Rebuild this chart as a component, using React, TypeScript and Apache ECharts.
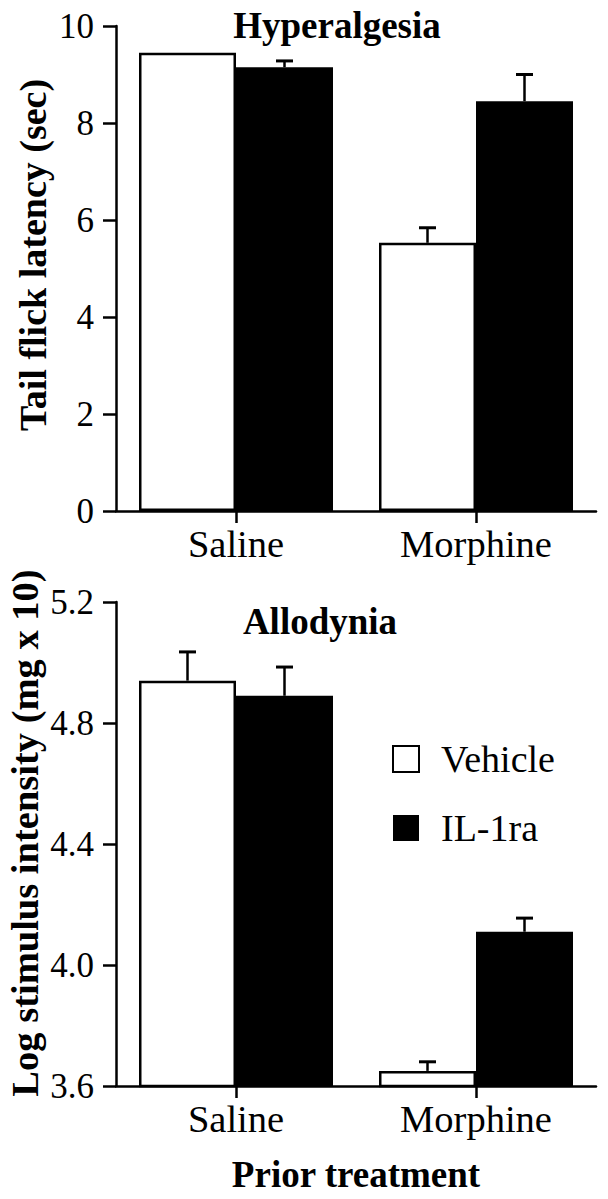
import React, { useEffect, useRef } from "react";
import * as echarts from "echarts";

const categories = ["Saline", "Morphine"];
const seriesNames = ["Vehicle", "IL-1ra"];

// Hyperalgesia (tail flick latency, sec)
const hyperVehicle = [9.45, 5.53];
const hyperVehicleSem = [0, 0.31];
const hyperIL1ra = [9.15, 8.45];
const hyperIL1raSem = [0.13, 0.55];

// Allodynia (log stimulus intensity, mg x 10)
const alloVehicle = [4.94, 3.65];
const alloVehicleSem = [0.095, 0.03];
const alloIL1ra = [4.89, 4.11];
const alloIL1raSem = [0.095, 0.045];

const FONT = "'Liberation Serif', 'Times New Roman', serif";
const BAR_W = 97;
const LW = 2.5;

function errData(means: number[], sems: number[]) {
  return means
    .map((m, i) => [i, m, m + sems[i], sems[i]])
    .filter((d) => d[3] > 0);
}

function errSeries(means: number[], sems: number[], idx: number, side: number) {
  return {
    type: "custom",
    xAxisIndex: idx,
    yAxisIndex: idx,
    silent: true,
    z: 5,
    data: errData(means, sems),
    renderItem: (params: any, api: any) => {
      const cat = api.value(0);
      const base = api.coord([cat, api.value(1)]);
      const top = api.coord([cat, api.value(2)]);
      const x = base[0] + side * (BAR_W / 2);
      return {
        type: "group",
        children: [
          {
            type: "line",
            shape: { x1: x, y1: base[1], x2: x, y2: top[1] },
            style: { stroke: "#000", lineWidth: LW },
          },
          {
            type: "line",
            shape: { x1: x - 8.5, y1: top[1], x2: x + 8.5, y2: top[1] },
            style: { stroke: "#000", lineWidth: LW + 0.5 },
          },
        ],
      };
    },
  };
}

export default function App() {
  const ref = useRef<HTMLDivElement>(null);
  useEffect(() => {
    if (!ref.current) return;
    const chart = echarts.init(ref.current, undefined, { renderer: "svg" });
    const axisLine = { show: true, lineStyle: { color: "#000", width: LW } };
    const axisTick = { show: true, inside: false, length: 13, lineStyle: { color: "#000", width: LW } };
    const yLabel = { color: "#000", fontFamily: FONT, fontSize: 35, margin: 22 };
    const xLabel = { color: "#000", fontFamily: FONT, fontSize: 38.5, margin: 13 };
    const nameStyle = { color: "#000", fontFamily: FONT, fontSize: 37, fontWeight: "bold" };
    const whiteBar = { color: "#fff", borderColor: "#000", borderWidth: LW };
    const blackBar = { color: "#000", borderColor: "#000", borderWidth: 0 };

    chart.setOption({
      animation: false,
      backgroundColor: "#fff",
      title: [
        {
          text: "Hyperalgesia",
          left: 332,
          top: 2,
          textAlign: "center",
          textStyle: { ...nameStyle },
        },
        {
          text: "Allodynia",
          left: 315,
          top: 598,
          textAlign: "center",
          textStyle: { ...nameStyle },
        },
      ],
      graphic: [
        {
          type: "text",
          x: 33,
          y: 255,
          rotation: Math.PI / 2,
          style: {
            text: "Tail flick latency (sec)",
            fill: "#000",
            font: `bold 38px ${FONT}`,
            textAlign: "center",
            textVerticalAlign: "middle",
          },
        },
        {
          type: "text",
          x: 25,
          y: 833,
          rotation: Math.PI / 2,
          style: {
            text: "Log stimulus intensity (mg x 10)",
            fill: "#000",
            font: `bold 38.5px ${FONT}`,
            textAlign: "center",
            textVerticalAlign: "middle",
          },
        },
      ],
      legend: {
        data: seriesNames,
        orient: "vertical",
        left: 387,
        top: 735,
        itemWidth: 26,
        itemHeight: 26,
        itemGap: 31,
        icon: "rect",
        selectedMode: false,
        textStyle: { color: "#000", fontFamily: FONT, fontSize: 38, padding: [0, 0, 0, 17] },
      },
      grid: [
        { left: 116, right: 12, top: 26, height: 485 },
        { left: 116, right: 12, top: 602, height: 484 },
      ],
      xAxis: [0, 1].map((i) => ({
        type: "category",
        gridIndex: i,
        data: categories,
        axisLine,
        axisTick: { ...axisTick, length: 12, alignWithLabel: true },
        axisLabel: xLabel,
        name: i === 1 ? "Prior treatment" : "",
        nameLocation: "middle",
        nameGap: 70,
        nameTextStyle: nameStyle,
      })),
      yAxis: [
        {
          type: "value",
          gridIndex: 0,
          min: 0,
          max: 10,
          interval: 2,
          axisLine,
          axisTick,
          splitLine: { show: false },
          axisLabel: yLabel,
        },
        {
          type: "value",
          gridIndex: 1,
          min: 3.6,
          max: 5.2,
          interval: 0.4,
          axisLine,
          axisTick,
          splitLine: { show: false },
          axisLabel: { ...yLabel, formatter: (v: number) => v.toFixed(1) },
        },
      ],
      series: [
        { name: "Vehicle", type: "bar", xAxisIndex: 0, yAxisIndex: 0, data: hyperVehicle, barWidth: BAR_W, barGap: "0%", itemStyle: whiteBar },
        { name: "IL-1ra", type: "bar", xAxisIndex: 0, yAxisIndex: 0, data: hyperIL1ra, barWidth: BAR_W, barGap: "0%", itemStyle: blackBar },
        { name: "Vehicle", type: "bar", xAxisIndex: 1, yAxisIndex: 1, data: alloVehicle, barWidth: BAR_W, barGap: "0%", itemStyle: whiteBar },
        { name: "IL-1ra", type: "bar", xAxisIndex: 1, yAxisIndex: 1, data: alloIL1ra, barWidth: BAR_W, barGap: "0%", itemStyle: blackBar },
        errSeries(hyperVehicle, hyperVehicleSem, 0, -1),
        errSeries(hyperIL1ra, hyperIL1raSem, 0, 1),
        errSeries(alloVehicle, alloVehicleSem, 1, -1),
        errSeries(alloIL1ra, alloIL1raSem, 1, 1),
      ],
    });
    return () => chart.dispose();
  }, []);
  return (
    <div
      ref={ref}
      style={{ position: "fixed", left: 0, top: 0, width: 608, height: 1199, background: "#fff" }}
    />
  );
}
